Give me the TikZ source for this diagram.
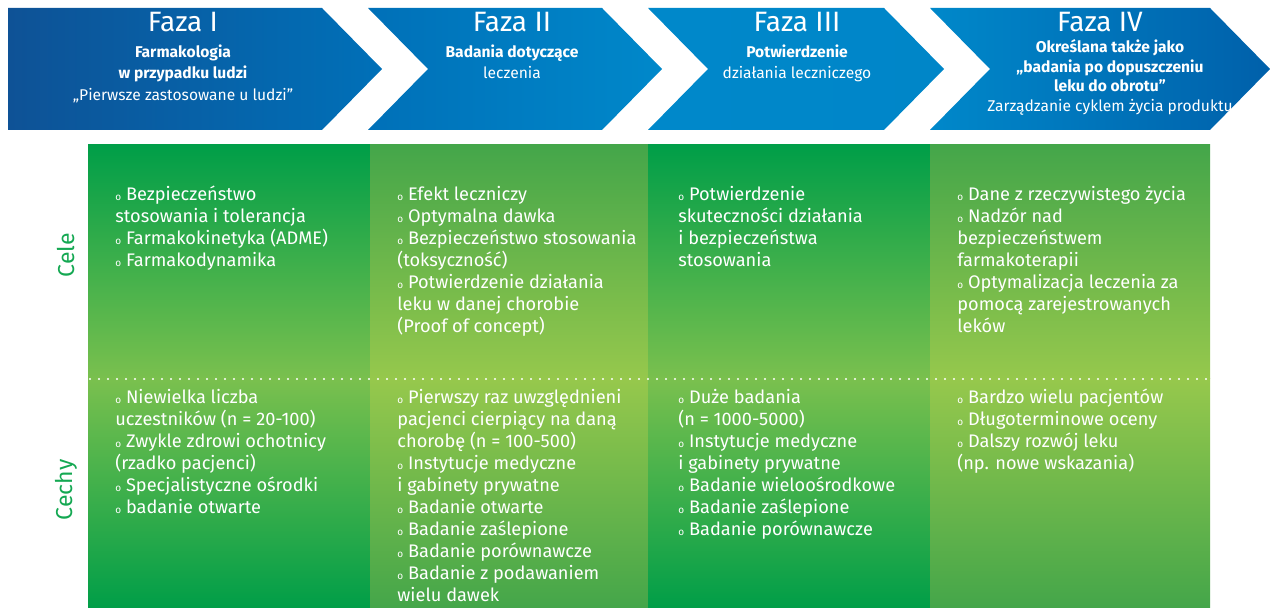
\documentclass[tikz,border=0pt]{standalone}
\usepackage{fontspec}
\setmainfont{Fira Sans}
\usetikzlibrary{positioning}
\definecolor{blueA}{RGB}{14,82,150}
\definecolor{blueB}{RGB}{0,112,184}
\definecolor{blueC}{RGB}{0,136,202}
\definecolor{blueD}{RGB}{0,96,170}
\definecolor{greenDark}{RGB}{0,158,72}
\definecolor{greenLight}{RGB}{122,192,78}
\definecolor{greenMid}{RGB}{68,166,74}
\definecolor{greenYellow}{RGB}{150,200,76}
\definecolor{labelGreen}{RGB}{20,168,82}
\tikzset{
  faza/.style={text=white, inner sep=0pt, font=\fontsize{14}{14}\selectfont},
  sub/.style={text=white, inner sep=0pt, align=center, font=\fontsize{7.8}{10.75}\selectfont},
  cell/.style={text=white, inner sep=0pt, anchor=north west, align=left, font=\fontsize{9.1}{11}\selectfont},
  side/.style={text=labelGreen, inner sep=0pt, rotate=90, font=\fontsize{11.5}{11.5}\selectfont},
  dots/.style={white, line width=1.1pt, line cap=round, dash pattern=on 0pt off 4.5pt}
}
\newcommand{\bl}{{\fontsize{5}{5}\selectfont o}\ }
\begin{document}
\begin{tikzpicture}[x=0.5pt,y=-0.5pt]
\useasboundingbox (0,0) rectangle (1270,608);

\shade[left color=blueA, right color=blueB] (8,8) -- (322,8) -- (382,69) -- (322,130) -- (8,130) -- cycle;
\shade[left color=blueB, right color=blueC] (368,8) -- (602,8) -- (662,69) -- (602,130) -- (368,130) -- (428,69) -- cycle;
\shade[left color=blueC, right color=blueC!90!blueB] (648,8) -- (884,8) -- (944,69) -- (884,130) -- (648,130) -- (708,69) -- cycle;
\shade[left color=blueC, right color=blueD] (930,8) -- (1210,8) -- (1270,69) -- (1210,130) -- (930,130) -- (990,69) -- cycle;

\node[faza] (f1) at (183,22) {Faza I};
\node[faza] (f2) at (512,22) {Faza II};
\node[faza] (f3) at (797,22) {Faza III};
\node[faza] (f4) at (1100,22) {Faza IV};

\node[sub, below=6pt of f1] (s1) {\textbf{Farmakologia}\\ \textbf{w przypadku ludzi}\\ „Pierwsze zastosowane u ludzi”};
\node[sub, below=6pt of f2] (s2) {\textbf{Badania dotyczące}\\ leczenia};
\node[sub, below=6pt of f3] (s3) {\textbf{Potwierdzenie}\\ działania leczniczego};
\node[sub, below=3.5pt of f4, xshift=5pt, font=\fontsize{7.8}{9.8}\selectfont] (s4) {\textbf{Określana także jako}\\ \textbf{„badania po dopuszczeniu}\\ \textbf{leku do obrotu”}\\ Zarządzanie cyklem życia produktu};

\shade[top color=greenDark, bottom color=greenLight] (88,145) rectangle (370,379);
\shade[top color=greenLight, bottom color=greenDark] (88,379) rectangle (370,608);
\shade[top color=greenMid, bottom color=greenYellow] (370,145) rectangle (648,379);
\shade[top color=greenYellow, bottom color=greenMid] (370,379) rectangle (648,608);
\shade[top color=greenDark, bottom color=greenLight] (648,145) rectangle (930,379);
\shade[top color=greenLight, bottom color=greenDark] (648,379) rectangle (930,608);
\shade[top color=greenMid, bottom color=greenYellow] (930,145) rectangle (1210,379);
\shade[top color=greenYellow, bottom color=greenMid] (930,379) rectangle (1210,608);

\coordinate (dl) at (90,379);
\coordinate (dr) at (1210,379);
\draw[dots] (dl) -- (dr);

\node[side] (cele) at (66,255) {Cele};
\node[side] (cechy) at (66,490) {Cechy};

\node[cell] (c1) at (115,186) {\bl Bezpieczeństwo\\ stosowania i tolerancja\\ \bl Farmakokinetyka (ADME)\\ \bl Farmakodynamika};
\node[cell] (c2) at (397,186) {\bl Efekt leczniczy\\ \bl Optymalna dawka\\ \bl Bezpieczeństwo stosowania\\ (toksyczność)\\ \bl Potwierdzenie działania\\ leku w danej chorobie\\ (Proof of concept)};
\node[cell] (c3) at (678,186) {\bl Potwierdzenie\\ skuteczności działania\\ i bezpieczeństwa\\ stosowania};
\node[cell] (c4) at (957,186) {\bl Dane z rzeczywistego życia\\ \bl Nadzór nad\\ bezpieczeństwem\\ farmakoterapii\\ \bl Optymalizacja leczenia za\\ pomocą zarejestrowanych\\ leków};

\node[cell] (h1) at (115,389) {\bl Niewielka liczba\\ uczestników (n = 20-100)\\ \bl Zwykle zdrowi ochotnicy\\ (rzadko pacjenci)\\ \bl Specjalistyczne ośrodki\\ \bl badanie otwarte};
\node[cell] (h2) at (397,389) {\bl Pierwszy raz uwzględnieni\\ pacjenci cierpiący na daną\\ chorobę (n = 100-500)\\ \bl Instytucje medyczne\\ i gabinety prywatne\\ \bl Badanie otwarte\\ \bl Badanie zaślepione\\ \bl Badanie porównawcze\\ \bl Badanie z podawaniem\\ wielu dawek};
\node[cell] (h3) at (678,389) {\bl Duże badania\\ (n = 1000-5000)\\ \bl Instytucje medyczne\\ i gabinety prywatne\\ \bl Badanie wieloośrodkowe\\ \bl Badanie zaślepione\\ \bl Badanie porównawcze};
\node[cell] (h4) at (957,389) {\bl Bardzo wielu pacjentów\\ \bl Długoterminowe oceny\\ \bl Dalszy rozwój leku\\ (np. nowe wskazania)};
\end{tikzpicture}
\end{document}
